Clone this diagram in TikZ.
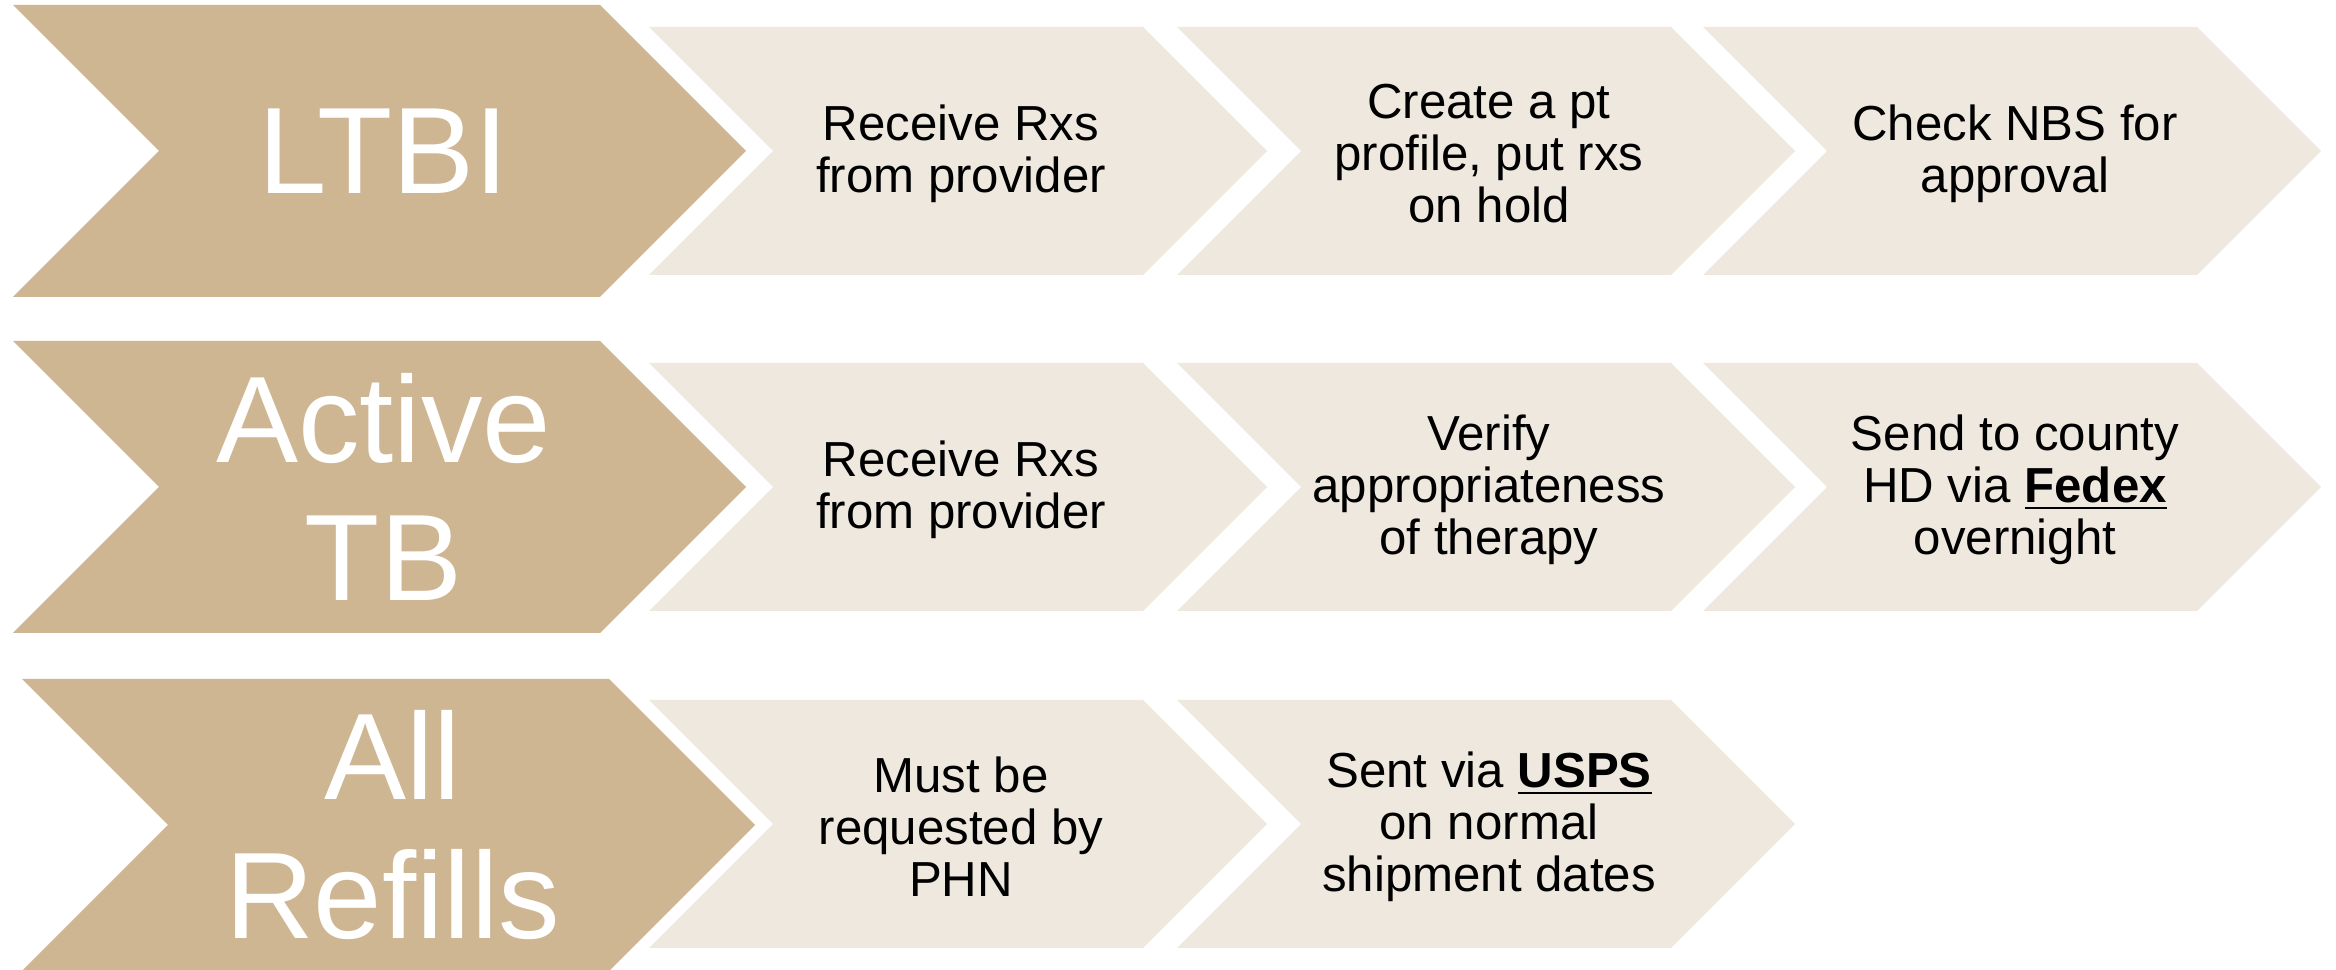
\documentclass[tikz,border=0pt]{standalone}
\usepackage{fontspec}
\setmainfont{Liberation Sans}

\definecolor{headtan}{HTML}{CFB692}
\definecolor{tasksand}{HTML}{EEE8DF}

\tikzset{
    headtext/.style={text=white, align=center, inner sep=0pt, font=\fontsize{35}{39.5}\selectfont},
    tasktext/.style={text=black, align=center, inner sep=0pt, font=\fontsize{14}{14.8}\selectfont}
}

\begin{document}
\begin{tikzpicture}[x=0.1mm, y=-0.1mm]
        \def\bw{587}
        \def\bd{146}
        \def\sw{494}
        \def\sd{124}

        \useasboundingbox (0,0) rectangle (2336,970);
        \clip (0,0) rectangle (2336,970);

        \foreach \row/\lx/\cy/\txt in {1/13/151/LTBI, 2/13/487/{Active\\TB}, 3/22/825/{All\\Refills}} {
            \fill[headtan] (\lx,\cy-\bd) -- ++(\bw,0) -- ++(\bd,\bd) -- ++(-\bd,\bd)
                -- ++(-\bw,0) -- ++(\bd,-\bd) -- cycle;
            \node[headtext] (head\row) at (\lx+\bd/2+\bw/2+4,\cy) {\txt};
        }

        \foreach \row/\k/\sx/\cy/\txt in {
            1/1/649/151/{Receive Rxs\\from provider},
            1/2/1177/151/{Create a pt\\profile, put rxs\\on hold},
            1/3/1703/151/{Check NBS for\\approval},
            2/1/649/487/{Receive Rxs\\from provider},
            2/2/1177/487/{Verify\\appropriateness\\of therapy},
            2/3/1703/487/{Send to county\\HD via \underline{\textbf{Fedex}}\\overnight},
            3/1/649/824/{Must be\\requested by\\PHN},
            3/2/1177/824/{Sent via \underline{\textbf{USPS}}\\on normal\\shipment dates}} {
            \fill[tasksand] (\sx,\cy-\sd) -- ++(\sw,0) -- ++(\sd,\sd) -- ++(-\sd,\sd)
                -- ++(-\sw,0) -- ++(\sd,-\sd) -- cycle;
            \node[tasktext] (task\row\k) at (\sx+\sd/2+\sw/2+3,\cy+3) {\txt};
        }
\end{tikzpicture}
\end{document}
